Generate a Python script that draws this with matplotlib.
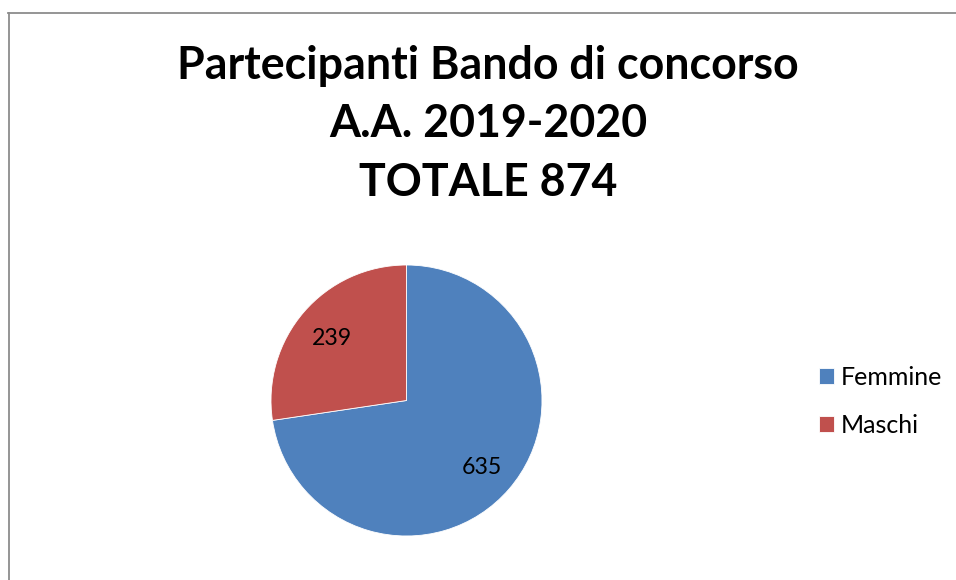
import matplotlib
matplotlib.use("Agg")
import matplotlib.pyplot as plt
from matplotlib.lines import Line2D

categories = ["Femmine", "Maschi"]
values = [635, 239]
colors = ["#4F81BD", "#C0504D"]
title_lines = ["Partecipanti Bando di concorso", "A.A. 2019-2020", "TOTALE 874"]

W, H = 956, 580
fig = plt.figure(figsize=(W / 100, H / 100), dpi=100)
fig.patch.set_facecolor("white")
plt.rcParams["font.family"] = ["Lato", "DejaVu Sans"]

def fx(px):
    return px / W

def fy(py):
    return 1 - py / H

# chart border (cropped on right and bottom)
fig.add_artist(Line2D([fx(8.5), fx(8.5)], [fy(13), fy(600)], color="#8C8C8C", lw=1.3,
                      transform=fig.transFigure))
fig.add_artist(Line2D([fx(8), fx(970)], [fy(13), fy(13)], color="#8C8C8C", lw=1.3,
                      transform=fig.transFigure))

# title
baselines = [79, 137.5, 196]
for line, b in zip(title_lines, baselines):
    fig.text(fx(488), fy(b), line, ha="center", va="baseline",
             fontsize=32.2, fontweight="bold", color="black")

# pie
cx, cy, r = 406.5, 400.5, 135.5
ax = fig.add_axes([fx(cx - r), fy(cy + r), fx(2 * r), (2 * r) / H])
total = sum(values)
wedges, texts, autotexts = ax.pie(
    values, colors=colors, startangle=90, counterclock=False,
    radius=1, pctdistance=0.73,
    autopct=lambda p: f"{round(p * total / 100)}",
    wedgeprops=dict(edgecolor="white", linewidth=0.6),
    textprops=dict(fontsize=16.7, color="black"))
for t in autotexts:
    x, y = t.get_position()
    t.set_position((x, y - 0.02))
ax.set_xlim(-1, 1)
ax.set_ylim(-1, 1)
ax.set_aspect("equal")
ax.axis("off")

# legend
fig.legend(wedges, categories, loc="upper left",
           bbox_to_anchor=(fx(819), fy(366)), frameon=False,
           fontsize=18, handlelength=0.6, handleheight=0.6,
           handletextpad=0.28, labelspacing=1.0, borderpad=0, borderaxespad=0)

fig.savefig("out.png", dpi=100, facecolor="white")
